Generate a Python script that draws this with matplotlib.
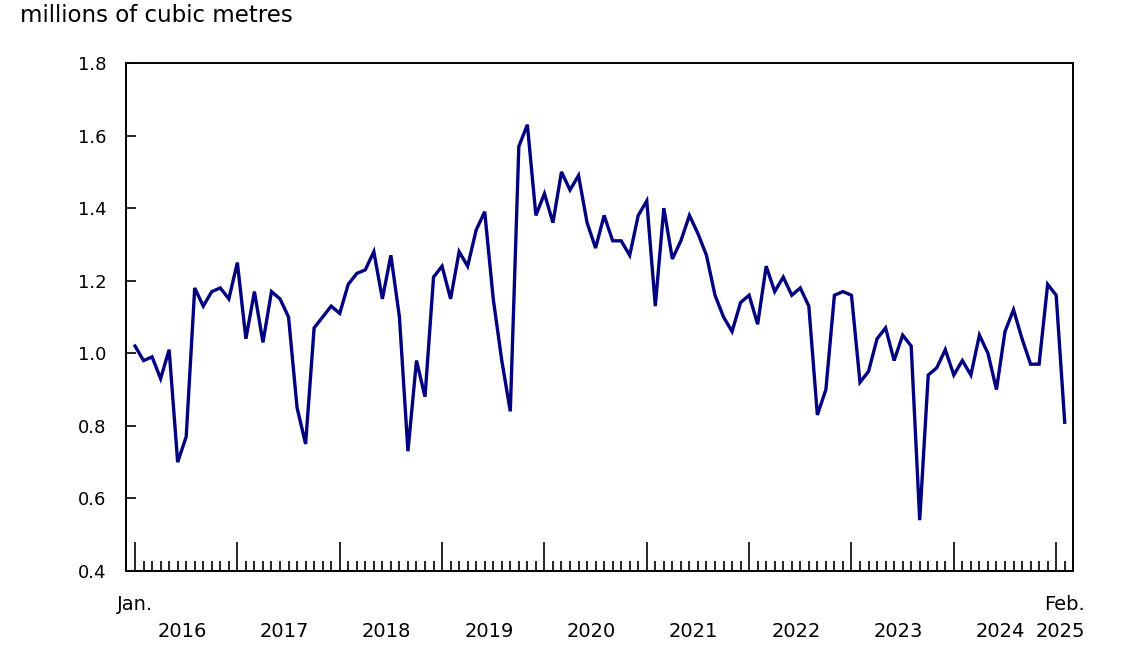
import numpy as np
import matplotlib.pyplot as plt
import matplotlib.transforms as mtransforms

# Valeurs mensuelles, janvier 2016 à février 2025 (millions de mètres cubes)
valeurs_2016 = [1.02, 0.98, 0.99, 0.93, 1.01, 0.70, 0.77, 1.18, 1.13, 1.17, 1.18, 1.15]
valeurs_2017 = [1.25, 1.04, 1.17, 1.03, 1.17, 1.15, 1.10, 0.85, 0.75, 1.07, 1.10, 1.13]
valeurs_2018 = [1.11, 1.19, 1.22, 1.23, 1.28, 1.15, 1.27, 1.10, 0.73, 0.98, 0.88, 1.21]
valeurs_2019 = [1.24, 1.15, 1.28, 1.24, 1.34, 1.39, 1.15, 0.98, 0.84, 1.57, 1.63, 1.38]
valeurs_2020 = [1.44, 1.36, 1.50, 1.45, 1.49, 1.36, 1.29, 1.38, 1.31, 1.31, 1.27, 1.38]
valeurs_2021 = [1.42, 1.13, 1.40, 1.26, 1.31, 1.38, 1.33, 1.27, 1.16, 1.10, 1.06, 1.14]
valeurs_2022 = [1.16, 1.08, 1.24, 1.17, 1.21, 1.16, 1.18, 1.13, 0.83, 0.90, 1.16, 1.17]
valeurs_2023 = [1.16, 0.92, 0.95, 1.04, 1.07, 0.98, 1.05, 1.02, 0.54, 0.94, 0.96, 1.01]
valeurs_2024 = [0.94, 0.98, 0.94, 1.05, 1.00, 0.90, 1.06, 1.12, 1.04, 0.97, 0.97, 1.19]
valeurs_2025 = [1.16, 0.81]

annees = ['2016', '2017', '2018', '2019', '2020', '2021', '2022', '2023', '2024', '2025']
yticks = [0.4, 0.6, 0.8, 1.0, 1.2, 1.4, 1.6, 1.8]

valeurs = (valeurs_2016 + valeurs_2017 + valeurs_2018 + valeurs_2019 + valeurs_2020
           + valeurs_2021 + valeurs_2022 + valeurs_2023 + valeurs_2024 + valeurs_2025)
mois = np.arange(len(valeurs))

plt.rcParams['font.family'] = 'DejaVu Sans'

fig = plt.figure(figsize=(11.46, 6.53), dpi=100)
ax = fig.add_axes([0.110, 0.1256, 0.8265, 0.7779])

ax.plot(mois, valeurs, color='#000080', linewidth=2.4, solid_joinstyle='miter')

ax.set_xlim(-1.05, 110)
ax.set_ylim(0.4, 1.8)

for s in ax.spines.values():
    s.set_linewidth(1.4)
    s.set_color('black')

# ticks y
ax.set_yticks(yticks)
ax.set_yticklabels([f'{v:.1f}' for v in yticks])
ax.tick_params(axis='y', direction='in', length=7, width=1.2, pad=14, labelsize=13)

# ticks x : années (longs) et mois (courts)
ax.set_xticks(np.arange(0, len(valeurs), 12))
ax.set_xticks(mois, minor=True)
ax.tick_params(axis='x', which='major', direction='in', length=21, width=1.2, labelbottom=False)
ax.tick_params(axis='x', which='minor', direction='in', length=7, width=1.2)

trans = mtransforms.blended_transform_factory(ax.transData, ax.transAxes)
for k, a in enumerate(annees):
    centre = 12 * k + 5.5
    if a == '2025':
        centre = 108.5
    ax.text(centre, -0.12, a, transform=trans, ha='center', va='center', fontsize=14)
ax.text(0, -0.065, 'Jan.', transform=trans, ha='center', va='center', fontsize=14)
ax.text(109, -0.065, 'Feb.', transform=trans, ha='center', va='center', fontsize=14)

fig.text(20 / 1146, 1 - 16 / 653, 'millions of cubic metres', ha='left', va='center', fontsize=16.5)

fig.savefig('out.png', dpi=100)
